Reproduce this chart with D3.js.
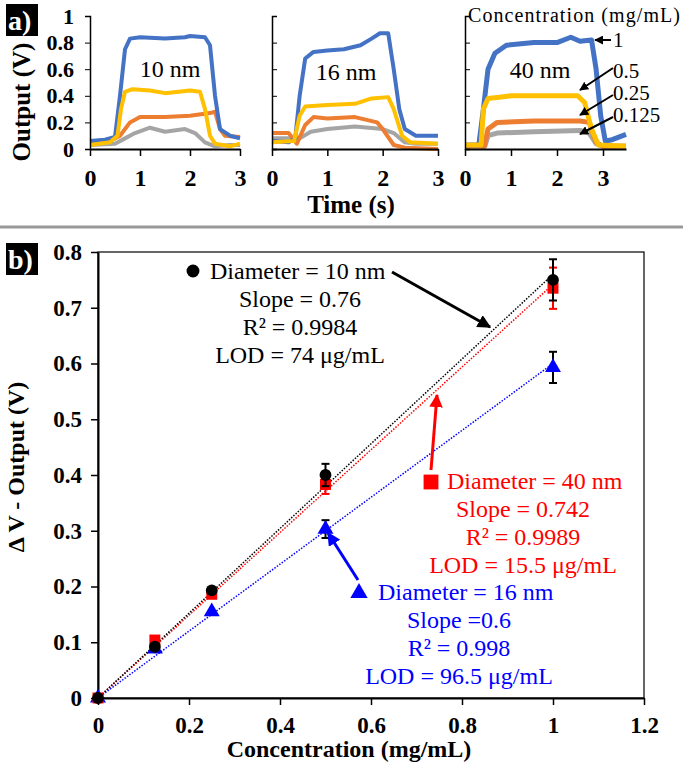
<!DOCTYPE html>
<html>
<head>
<meta charset="utf-8">
<script src="https://cdn.jsdelivr.net/npm/d3@7"></script>
<style>
body { margin: 0; background: #fff; }
svg { display: block; }
svg text { font-family: "Liberation Serif", "Tinos", "Times New Roman", "DejaVu Serif", serif !important; }
</style>
</head>
<body>
<script>
//panel a traces, [time (s), output (V)]
var blue10 = [[0,0.06],[0.3,0.07],[0.5,0.09],[0.6,0.4],[0.7,0.75],[0.8,0.83],[1.0,0.84],[1.5,0.83],[1.9,0.84],[2.0,0.85],[2.3,0.84],[2.4,0.78],[2.5,0.4],[2.6,0.15],[2.8,0.1],[3.0,0.08]];
var yellow10 = [[0,0.03],[0.4,0.05],[0.55,0.1],[0.62,0.3],[0.7,0.43],[0.85,0.45],[1.2,0.44],[1.5,0.42],[2.0,0.44],[2.2,0.43],[2.3,0.3],[2.4,0.1],[2.5,0.04],[2.8,0.02],[3.0,0.04]];
var orange10 = [[0,0.05],[0.4,0.06],[0.6,0.1],[0.8,0.2],[1.0,0.24],[1.5,0.24],[2.0,0.25],[2.4,0.27],[2.5,0.28],[2.6,0.15],[2.7,0.1],[3.0,0.09]];
var gray10 = [[0,0.03],[0.5,0.04],[0.7,0.08],[0.9,0.12],[1.2,0.16],[1.5,0.13],[1.9,0.15],[2.1,0.12],[2.3,0.05],[2.5,0.02],[2.8,0.03],[3.0,0.03]];

var blue16 = [[0,0.06],[0.3,0.05],[0.42,0.08],[0.5,0.4],[0.6,0.68],[0.75,0.73],[1.0,0.74],[1.3,0.75],[1.6,0.78],[1.8,0.83],[1.95,0.87],[2.1,0.87],[2.2,0.6],[2.3,0.3],[2.4,0.15],[2.6,0.1],[3.0,0.1]];
var yellow16 = [[0,0.05],[0.4,0.06],[0.5,0.25],[0.6,0.32],[1.0,0.33],[1.5,0.34],[1.8,0.38],[2.1,0.39],[2.2,0.3],[2.35,0.1],[2.5,0.05],[3.0,0.04]];
var orange16 = [[0,0.12],[0.3,0.12],[0.45,0.04],[0.6,0.18],[0.75,0.24],[1.0,0.23],[1.5,0.24],[1.9,0.2],[2.0,0.15],[2.2,0.03],[2.4,0.01],[3.0,0.0]];
var gray16 = [[0,0.08],[0.5,0.08],[0.7,0.13],[1.0,0.15],[1.5,0.17],[2.0,0.15],[2.2,0.12],[2.4,0.05],[2.6,0.04],[3.0,0.04]];

var blue40 = [[0,0.03],[0.3,0.03],[0.4,0.3],[0.5,0.6],[0.65,0.72],[0.9,0.78],[1.5,0.8],[2.0,0.8],[2.3,0.84],[2.5,0.81],[2.75,0.82],[2.85,0.6],[2.95,0.25],[3.05,0.06],[3.2,0.07],[3.5,0.11]];
var yellow40 = [[0,0.03],[0.35,0.03],[0.4,0.3],[0.5,0.38],[1.0,0.4],[2.0,0.4],[2.45,0.4],[2.6,0.35],[2.75,0.15],[2.9,0.03],[3.5,0.02]];
var orange40 = [[0,0.02],[0.42,0.02],[0.5,0.15],[0.7,0.2],[1.5,0.21],[2.5,0.21],[2.7,0.2],[2.85,0.05],[3.0,0.02],[3.5,0.02]];
var gray40 = [[0,0.02],[0.43,0.02],[0.5,0.1],[0.7,0.12],[1.5,0.13],[2.5,0.14],[2.7,0.12],[2.85,0.04],[3.0,0.02],[3.5,0.02]];

var concLabels = ["1", "0.5", "0.25", "0.125"];
var sizeLabels = ["10 nm", "16 nm", "40 nm"];
var tickA_X = [0, 1, 2, 3];
var tickA_Y = [0, 0.2, 0.4, 0.6, 0.8, 1];

//panel b data
var concB = [0, 0.125, 0.25, 0.5, 1];
var v10 = [0, 0.092, 0.193, 0.40, 0.75];
var e10 = [0, 0.004, 0.006, 0.02, 0.037];
var v40 = [0, 0.104, 0.186, 0.383, 0.735];
var e40 = [0, 0.004, 0.006, 0.017, 0.037];
var v16 = [0, 0.088, 0.155, 0.303, 0.593];
var e16 = [0, 0.003, 0.004, 0.016, 0.028];
var slopes = [0.76, 0.742, 0.6];
var tickB_X = [0, 0.2, 0.4, 0.6, 0.8, 1, 1.2];
var tickB_Y = [0, 0.1, 0.2, 0.3, 0.4, 0.5, 0.6, 0.7, 0.8];
var text10 = ["Diameter = 10 nm", "Slope = 0.76", "R² = 0.9984", "LOD = 74 μg/mL"];
var text40 = ["Diameter = 40 nm", "Slope = 0.742", "R² = 0.9989", "LOD = 15.5  μg/mL"];
var text16 = ["Diameter = 16 nm", "Slope =0.6", "R² = 0.998", "LOD = 96.5 μg/mL"];

(function(){
    var width = 683, height = 763;
    var svg = d3.select("body").append("svg")
        .attr("width", width)
        .attr("height", height);

    //arrow heads
    var defs = svg.append("defs");
    [["black","#000"],["red","#f00"],["blue","#00f"]].forEach(function(c){
        defs.append("marker")
            .attr("id", "arr-" + c[0])
            .attr("viewBox", "0 0 10 10")
            .attr("refX", 9).attr("refY", 5)
            .attr("markerWidth", 4.5).attr("markerHeight", 4.5)
            .attr("markerUnits", "strokeWidth")
            .attr("orient", "auto")
            .append("path")
            .attr("d", "M0,0L10,5L0,10Z")
            .attr("fill", c[1]);
    });

    function fmt(d){ return String(+d.toFixed(2)); }

    //---------------- panel a ----------------
    var colors = ["#4472C4", "#FFC000", "#ED7D31", "#A5A5A5"]; //1, 0.5, 0.25, 0.125
    var subplots = [
        {x0: 90, x1: 240, tmax: 3, traces: [blue10, yellow10, orange10, gray10], lw: 4, lx: 170, ly: 77},
        {x0: 272, x1: 438, tmax: 3, traces: [blue16, yellow16, orange16, gray16], lw: 4, lx: 346, ly: 80},
        {x0: 465, x1: 626, tmax: 3.5, traces: [blue40, yellow40, orange40, gray40], lw: 5, lx: 540, ly: 78}
    ];
    var yA = d3.scaleLinear().domain([0, 1]).range([149, 16]);

    subplots.forEach(function(sp, i){
        var x = d3.scaleLinear().domain([0, sp.tmax]).range([sp.x0, sp.x1]);
        var g = svg.append("g");
        var line = d3.line()
            .x(function(d){ return x(d[0]); })
            .y(function(d){ return yA(d[1]); });

        //draw order: gray, orange, blue, yellow
        [3, 2, 0, 1].forEach(function(k){
            g.append("path")
                .datum(sp.traces[k])
                .attr("d", line)
                .attr("fill", "none")
                .attr("stroke", colors[k])
                .attr("stroke-width", sp.lw)
                .attr("stroke-linejoin", "round");
        });

        var yAxis = d3.axisLeft(yA).tickValues(tickA_Y)
            .tickSize(i == 0 ? 5 : -5)
            .tickFormat(i == 0 ? fmt : "");
        var ya = g.append("g").attr("transform", "translate(" + sp.x0 + ",0)").call(yAxis);
        ya.select(".domain").attr("stroke-width", 1.5);
        ya.selectAll("text").attr("font-size", 22).attr("font-weight", "bold")
            .attr("fill", "#000").attr("dx", -8);

        var xAxis = d3.axisBottom(x).tickValues(tickA_X).tickSize(7).tickSizeOuter(0).tickFormat(fmt);
        var xa = g.append("g").attr("transform", "translate(0," + yA(0) + ")").call(xAxis);
        xa.select(".domain").attr("stroke-width", 2);
        xa.selectAll(".tick line").attr("stroke-width", 1.5);
        xa.selectAll("text").attr("font-size", 24).attr("font-weight", "bold")
            .attr("fill", "#000").attr("dy", 27);

        g.append("text")
            .attr("x", sp.lx).attr("y", sp.ly)
            .attr("text-anchor", "middle")
            .attr("font-size", 24)
            .text(sizeLabels[i]);
    });

    //panel a axis titles
    svg.append("text")
        .attr("transform", "translate(30,102) rotate(-90)")
        .attr("text-anchor", "middle")
        .attr("font-size", 25).attr("font-weight", "bold")
        .text("Output (V)");
    svg.append("text")
        .attr("x", 351).attr("y", 213)
        .attr("text-anchor", "middle")
        .attr("font-size", 25).attr("font-weight", "bold")
        .text("Time (s)");

    //legend of concentrations
    svg.append("text")
        .attr("x", 468).attr("y", 22)
        .attr("font-size", 20)
        .attr("textLength", 212)
        .text("Concentration (mg/mL)");
    var legY = [47, 78, 100, 122];
    var legArrows = [[611, 40, 595, 40], [613, 68, 580, 90], [613, 95, 580, 115], [613, 117, 580, 134]];
    concLabels.forEach(function(c, k){
        svg.append("text")
            .attr("x", 613).attr("y", legY[k])
            .attr("font-size", 21)
            .text(c);
        var a = legArrows[k];
        svg.append("line")
            .attr("x1", a[0]).attr("y1", a[1]).attr("x2", a[2]).attr("y2", a[3])
            .attr("stroke", "#000").attr("stroke-width", 2)
            .attr("marker-end", "url(#arr-black)");
    });

    //panel labels
    function panelLabel(txt, x, y){
        svg.append("rect").attr("x", x).attr("y", y).attr("width", 32).attr("height", 32).attr("fill", "#000");
        svg.append("text").attr("x", x + 2).attr("y", y + 26)
            .attr("font-size", 28).attr("font-weight", "bold").attr("fill", "#fff")
            .text(txt);
    }
    panelLabel("a)", 6, 4);
    panelLabel("b)", 6, 243);

    //separator
    svg.append("line")
        .attr("x1", 0).attr("x2", width).attr("y1", 227).attr("y2", 227)
        .attr("stroke", "#999").attr("stroke-width", 3);

    //---------------- panel b ----------------
    var xB = d3.scaleLinear().domain([0, 1.2]).range([98, 644]);
    var yB = d3.scaleLinear().domain([0, 0.8]).range([698, 252]);
    var gb = svg.append("g");

    //frame
    gb.append("rect")
        .attr("x", xB(0)).attr("y", yB(0.8))
        .attr("width", xB(1.2) - xB(0)).attr("height", yB(0) - yB(0.8))
        .attr("fill", "none").attr("stroke", "#000").attr("stroke-width", 1.2);

    var xaB = gb.append("g").attr("transform", "translate(0," + yB(0) + ")")
        .call(d3.axisBottom(xB).tickValues(tickB_X).tickSize(7).tickSizeOuter(0).tickFormat(fmt));
    var yaB = gb.append("g").attr("transform", "translate(" + xB(0) + ",0)")
        .call(d3.axisLeft(yB).tickValues(tickB_Y).tickSize(7).tickSizeOuter(0).tickFormat(fmt));
    [xaB, yaB].forEach(function(a){
        a.select(".domain").attr("stroke-width", 2);
        a.selectAll(".tick line").attr("stroke-width", 1.5);
        a.selectAll("text").attr("font-size", 23).attr("font-weight", "bold")
            .attr("fill", "#000");
    });
    xaB.selectAll("text").attr("dy", 25);
    yaB.selectAll("text").attr("dx", -6);

    gb.append("text")
        .attr("x", 349).attr("y", 757)
        .attr("text-anchor", "middle")
        .attr("font-size", 24).attr("font-weight", "bold")
        .text("Concentration (mg/mL)");
    gb.append("text")
        .attr("transform", "translate(24,467) rotate(-90)")
        .attr("text-anchor", "middle")
        .attr("font-size", 24).attr("font-weight", "bold")
        .text("Δ V - Output (V)");

    //series: blue (16 nm), red (40 nm), black (10 nm) on top
    var series = [
        {v: v16, e: e16, color: "#00f", err: "#000", slope: slopes[2], shape: d3.symbolTriangle, size: 110},
        {v: v40, e: e40, color: "#f00", err: "#f00", slope: slopes[1], shape: d3.symbolSquare, size: 120},
        {v: v10, e: e10, color: "#000", err: "#000", slope: slopes[0], shape: d3.symbolCircle, size: 110}
    ];

    //trend lines
    series.forEach(function(s){
        gb.append("line")
            .attr("x1", xB(0)).attr("y1", yB(0))
            .attr("x2", xB(1)).attr("y2", yB(s.slope))
            .attr("stroke", s.color).attr("stroke-width", 1.5)
            .attr("stroke-dasharray", "1.5,1.5");
    });

    series.forEach(function(s){
        var pts = concB.map(function(c, k){ return {c: c, v: s.v[k], e: s.e[k]}; });
        var eb = gb.append("g").selectAll("g").data(pts.filter(function(d){ return d.e > 0.01; })).enter().append("g")
            .attr("stroke", s.err).attr("stroke-width", 2);
        eb.append("line")
            .attr("x1", function(d){ return xB(d.c); }).attr("x2", function(d){ return xB(d.c); })
            .attr("y1", function(d){ return yB(d.v - d.e); }).attr("y2", function(d){ return yB(d.v + d.e); });
        eb.append("line")
            .attr("x1", function(d){ return xB(d.c) - 4; }).attr("x2", function(d){ return xB(d.c) + 4; })
            .attr("y1", function(d){ return yB(d.v + d.e); }).attr("y2", function(d){ return yB(d.v + d.e); });
        eb.append("line")
            .attr("x1", function(d){ return xB(d.c) - 4; }).attr("x2", function(d){ return xB(d.c) + 4; })
            .attr("y1", function(d){ return yB(d.v - d.e); }).attr("y2", function(d){ return yB(d.v - d.e); });
        gb.append("g").selectAll("path").data(pts).enter().append("path")
            .attr("d", d3.symbol().type(s.shape).size(s.size))
            .attr("transform", function(d){ return "translate(" + xB(d.c) + "," + yB(d.v) + ")"; })
            .attr("fill", s.color);
    });

    //annotation blocks
    function block(lines, color, cx, y0, firstX){
        lines.forEach(function(t, k){
            gb.append("text")
                .attr("x", k == 0 ? firstX : cx)
                .attr("y", y0 + k * 28)
                .attr("text-anchor", k == 0 ? "start" : "middle")
                .attr("font-size", 24)
                .attr("fill", color)
                .text(t);
        });
    }
    block(text10, "#000", 300, 279, 210);
    block(text40, "#f00", 523, 489, 447);
    block(text16, "#00f", 459, 600, 378);

    gb.append("path").attr("d", d3.symbol().type(d3.symbolCircle).size(130))
        .attr("transform", "translate(193,271)").attr("fill", "#000");
    gb.append("path").attr("d", d3.symbol().type(d3.symbolSquare).size(220))
        .attr("transform", "translate(431,482)").attr("fill", "#f00");
    gb.append("path").attr("d", d3.symbol().type(d3.symbolTriangle).size(130))
        .attr("transform", "translate(359,593)").attr("fill", "#00f");

    //arrows
    [[392, 272, 490, 327, "black", "#000"], [431, 470, 437, 395, "red", "#f00"], [358, 580, 328, 533, "blue", "#00f"]]
        .forEach(function(a){
            gb.append("line")
                .attr("x1", a[0]).attr("y1", a[1]).attr("x2", a[2]).attr("y2", a[3])
                .attr("stroke", a[5]).attr("stroke-width", 3)
                .attr("marker-end", "url(#arr-" + a[4] + ")");
        });
})();
</script>
</body>
</html>
